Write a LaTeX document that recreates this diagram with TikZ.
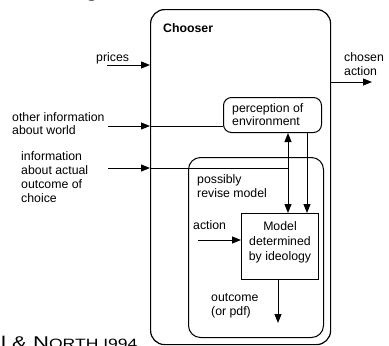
\documentclass[tikz,border=0pt]{standalone}
\usepackage{fontspec}
\setmainfont{Liberation Sans}
\usetikzlibrary{arrows.meta}
\begin{document}
\begin{tikzpicture}[x=1pt,y=-1pt,
  lbl/.style={inner sep=0pt,anchor=west,align=left,font=\fontsize{12.3}{13.8}\selectfont},
  arr/.style={-{Triangle[length=9pt,width=7pt]},line width=1pt},
  ln/.style={line width=1pt},
  boxr/.style={draw,line width=1pt,anchor=north west,inner sep=0pt}]
\useasboundingbox (0,0) rectangle (389,346);
% heading fragment and citation fragment (clipped by the page)
\node[anchor=base west,inner sep=0pt,font=\bfseries\fontsize{22}{22}\selectfont] (hd) at (85,-3.5) {g};
\node[anchor=base west,inner sep=0pt] (cite) at (1,348) {\scalebox{1.3}[1]{\fontsize{17}{17}\selectfont l \& N{\fontsize{13.5}{13.5}\selectfont ORTH I994}}};
% boxes
\node[boxr,line width=1.2pt,rounded corners=14pt,minimum width=180pt,minimum height=335pt] (outer) at (150,9) {};
\node[boxr,rounded corners=8pt,minimum width=98pt,minimum height=35pt] (perc) at (223,97) {};
\node[boxr,rounded corners=12pt,minimum width=135pt,minimum height=180pt] (inner) at (188,157) {};
\node[boxr,minimum width=77pt,minimum height=66pt] (model) at (241,213) {};
% texts
\node[lbl,font=\bfseries\fontsize{12.3}{13.8}\selectfont] (chooser) at (163,28) {Chooser};
\node[lbl] (prices) at (96,58) {prices};
\node[lbl] (chosen) at (344,64) {chosen\\action};
\node[lbl] (other) at (12,123.5) {other information\\about world};
\node[lbl] (infotxt) at (21,177) {information\\about actual\\outcome of\\choice};
\node[lbl] (perctxt) at (232,114.5) {perception of\\environment};
\node[lbl] (revise) at (197,186) {possibly\\revise model};
\node[lbl] (action) at (193,225) {action};
\node[lbl,anchor=center,align=center,font=\fontsize{12.3}{15}\selectfont] (modeltxt) at (280,242) {Model\\determined\\by ideology};
\node[lbl] (outtxt) at (211,305.5) {outcome\\(or pdf)};
% connectors
\coordinate (pS) at (107,65);
\draw[arr] (pS) -- (pS -| outer.west);
\coordinate (oS) at (108,126);
\draw[arr] (oS) -- (oS -| outer.west);
\draw[ln] (oS -| outer.west) -- (oS -| perc.west);
\coordinate (iS) at (108,168);
\coordinate (J) at (288,168);
\draw[arr] (iS) -- (iS -| outer.west);
\draw[ln] (iS -| outer.west) -- (J);
\draw[arr] (J) -- (J |- perc.south);
\draw[arr] (J) -- (J |- model.north);
\coordinate (K) at (307,150);
\draw[arr] (K |- perc.south) -- (K |- model.north);
\coordinate (aS) at (198,240);
\draw[arr] (aS) -- (aS -| model.west);
\coordinate (oE) at (278,323);
\draw[arr] (oE |- model.south) -- (oE);
\coordinate (cE) at (372,82);
\draw[arr] (cE -| outer.east) -- (cE);
\end{tikzpicture}
\end{document}
